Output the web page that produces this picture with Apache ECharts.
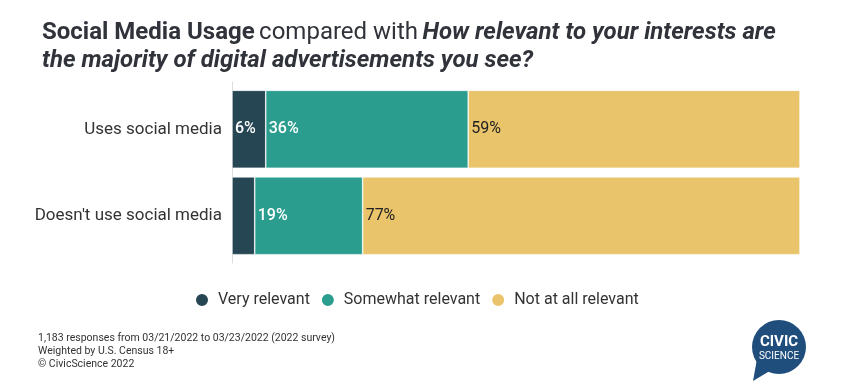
<!DOCTYPE html>
<html><head><meta charset="utf-8">
<script src="https://cdn.jsdelivr.net/npm/echarts@6/dist/echarts.min.js"></script>
<style>html,body{margin:0;padding:0;background:#fff}#c{width:860px;height:392px}</style>
</head><body><div id="c"></div>
<script>
const categories = ["Uses social media", "Doesn't use social media"];
const seriesNames = ["Very relevant", "Somewhat relevant", "Not at all relevant"];
const veryRelevant = [6, 4];
const somewhatRelevant = [36, 19];
const notAtAll = [59, 77];
const colors = ["#264653", "#2a9d8f", "#e9c46a"];
const footnotes = ["1,183 responses from 03/21/2022 to 03/23/2022 (2022 survey)", "Weighted by U.S. Census 18+", "\u00a9 CivicScience 2022"];

const raw = [veryRelevant, somewhatRelevant, notAtAll];
const totals = categories.map((_, i) => raw.reduce((s, a) => s + a[i], 0));
const labelColors = ["#fff", "#fff", "#222"];
const labelWeights = [500, 500, 400];

const chart = echarts.init(document.getElementById('c'));
chart.setOption({
  animation: false,
  color: colors,
  textStyle: { fontFamily: 'Roboto' },
  title: {
    left: 37, top: 14,
    text: '{b|Social Media Usage} {n|compared with} {bi|How relevant to your interests are}\n{bi|the majority of digital advertisements you see?}',
    textStyle: {
      rich: {
        b: { fontFamily: 'Roboto', fontWeight: 'bold', fontSize: 24, color: '#30333a', lineHeight: 28 },
        n: { fontFamily: 'Roboto', fontWeight: 'normal', fontSize: 24, color: '#30333a', lineHeight: 28 },
        bi: { fontFamily: 'Roboto', fontWeight: 'bold', fontStyle: 'italic', fontSize: 24, color: '#30333a', lineHeight: 28 }
      }
    }
  },
  legend: {
    top: 287, left: 189,
    icon: 'circle', itemWidth: 14, itemHeight: 14, itemGap: 10,
    textStyle: { fontSize: 16, color: '#333', fontFamily: 'Roboto', padding: [0, 0, 0, 4] },
    data: seriesNames
  },
  grid: [
    { left: 232, right: 60, top: 86, bottom: 133 },
    { left: 232, right: 60, top: 82, bottom: 129 }
  ],
  xAxis: [
    { type: 'value', min: 0, max: 100, show: false, gridIndex: 0 },
    { type: 'value', min: 0, max: 100, show: false, gridIndex: 1 }
  ],
  yAxis: [
    {
      type: 'category', inverse: true, data: categories, gridIndex: 0,
      axisLine: { show: false },
      axisTick: { show: false },
      axisLabel: { fontSize: 17, color: '#333', margin: 10, fontFamily: 'Roboto' }
    },
    {
      type: 'category', inverse: true, data: categories, gridIndex: 1,
      axisLine: { show: true, lineStyle: { color: '#ddd' } },
      axisTick: { show: false },
      axisLabel: { show: false }
    }
  ],
  series: raw.map((arr, k) => ({
    name: seriesNames[k], type: 'bar', stack: 'all', barCategoryGap: '10%',
    xAxisIndex: 0, yAxisIndex: 0,
    itemStyle: { borderColor: '#fff', borderWidth: 0.6 },
    label: {
      show: true, position: 'insideLeft', distance: 3,
      fontSize: 16, color: labelColors[k], fontWeight: labelWeights[k], fontFamily: 'Roboto',
      formatter: p => arr[p.dataIndex] >= 5 ? arr[p.dataIndex] + '%' : ''
    },
    data: arr.map((v, i) => v / totals[i] * 100)
  })),
  graphic: [
    { type: 'group', left: 38, top: 333, children: footnotes.map((t, i) => ({
      type: 'text', x: 0, y: i * 13, style: { text: t, fontSize: 10.5, fill: '#333', fontFamily: 'Roboto' }
    })) },
    { type: 'group', left: 752, top: 320, children: [
      { type: 'polygon', shape: { points: [[6, 42], [2, 64], [22, 52]] }, style: { fill: '#1f4e7d' } },
      { type: 'circle', shape: { cx: 28, cy: 30, r: 27 }, style: { fill: '#1f4e7d' } },
      { type: 'text', style: { text: 'CIVIC', x: 28, y: 25, align: 'center', verticalAlign: 'middle', fill: '#fff', fontSize: 15, fontWeight: 'bold', fontFamily: 'Roboto' } },
      { type: 'text', style: { text: 'SCIENCE', x: 28, y: 39, align: 'center', verticalAlign: 'middle', fill: '#fff', fontSize: 10, fontFamily: 'Roboto' } }
    ] }
  ]
});
</script></body></html>
